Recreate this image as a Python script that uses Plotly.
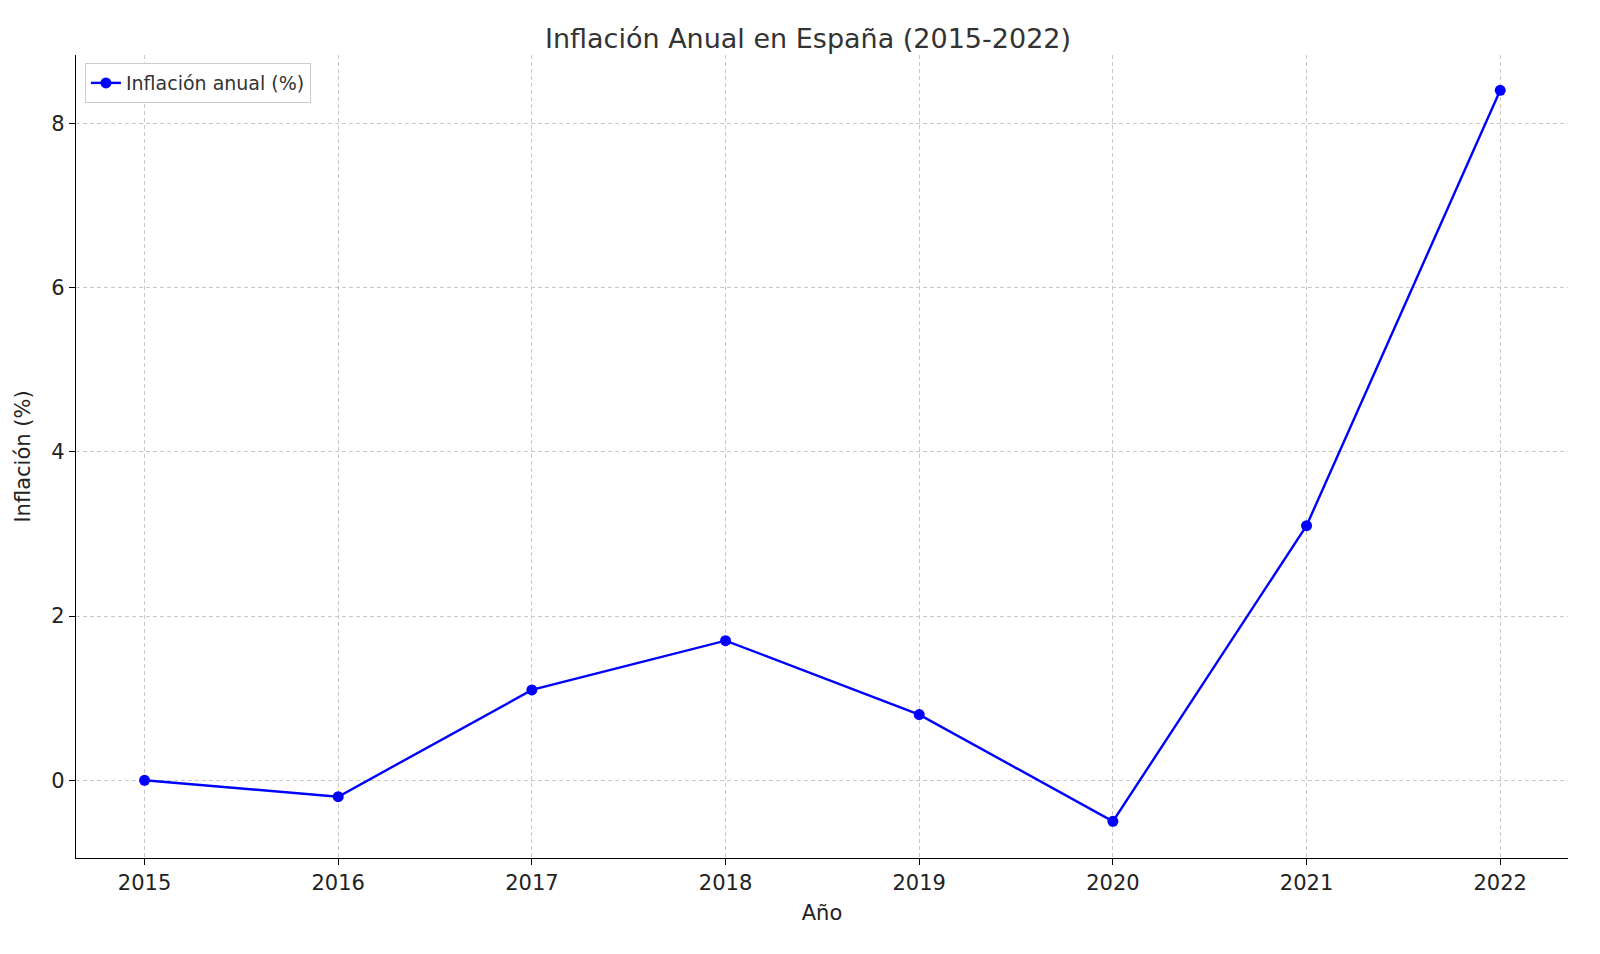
import plotly.graph_objects as go

years = [2015, 2016, 2017, 2018, 2019, 2020, 2021, 2022]
inflation = [0.0, -0.2, 1.1, 1.7, 0.8, -0.5, 3.1, 8.4]

fig = go.Figure(go.Scatter(
    x=years, y=inflation, mode="lines+markers", name="Inflación anual (%)",
    line=dict(color="#0000ff", width=2.4), marker=dict(size=11, color="#0000ff"),
))
ax = dict(showline=True, linecolor="black", linewidth=1.4, ticks="outside", ticklen=6,
          tickcolor="black", showgrid=True, gridcolor="#c8c8c8", griddash="4px,3px",
          gridwidth=1, zeroline=False, tickfont=dict(size=21, color="#222"),
          mirror=False)
fig.update_layout(
    width=1600, height=954, plot_bgcolor="white", paper_bgcolor="white",
    font=dict(family="DejaVu Sans", color="#333"),
    margin=dict(l=68, r=40, t=47, b=104),
    title=dict(text="Inflación Anual en España (2015-2022)", x=0.5, xanchor="center",
               y=0.968, yanchor="middle", font=dict(size=27, color="#333")),
    xaxis=dict(ax, range=[2014.646, 2022.35], tickvals=years,
               title=dict(text="Año", font=dict(size=21, color="#222"), standoff=10)),
    yaxis=dict(ax, range=[-0.946, 8.83], tickvals=[0, 2, 4, 6, 8],
               title=dict(text="Inflación (%)", font=dict(size=21, color="#222"), standoff=14)),
    showlegend=True,
    legend=dict(x=0.006, y=0.99, xanchor="left", yanchor="top", bgcolor="white",
                bordercolor="#ccc", borderwidth=1, font=dict(size=19, color="#333")),
)
fig.write_html("out.html")
